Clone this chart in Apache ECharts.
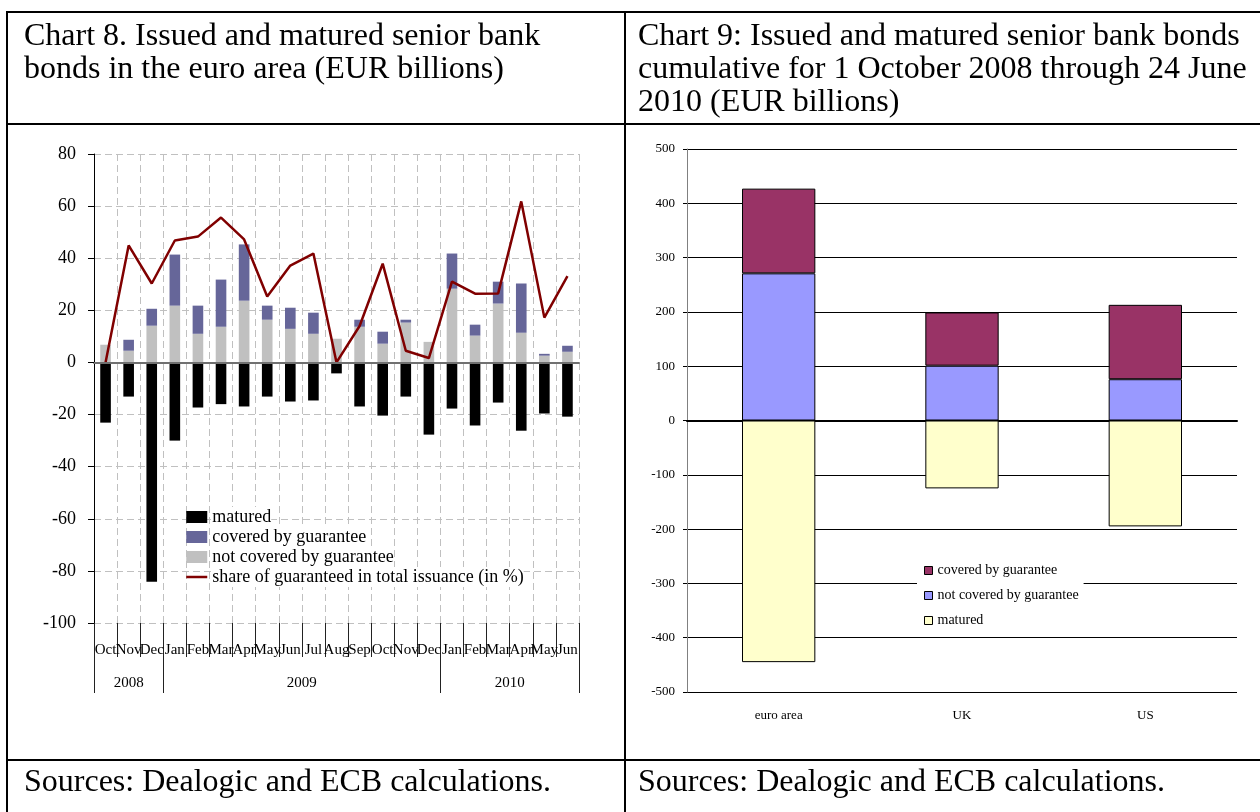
<!DOCTYPE html>
<html>
<head>
<meta charset="utf-8">
<script src="https://cdn.jsdelivr.net/npm/echarts@6/dist/echarts.min.js"></script>
<style>
    body { margin: 0; background: #fff; }
    #main { position: absolute; left: 0; top: 0; width: 1260px; height: 812px; }
    .ln { position: absolute; background: #000; }
    .txt { position: absolute; font-family: 'Liberation Serif', 'Times New Roman', serif;
           font-size: 32px; line-height: 33px; color: #000; white-space: nowrap; }
</style>
</head>
<body>
<div id="main"></div>
<!-- table frame -->
<div class="ln" style="left:6px;top:11px;width:1254px;height:2px"></div>
<div class="ln" style="left:6px;top:123px;width:1254px;height:2px"></div>
<div class="ln" style="left:6px;top:759px;width:1254px;height:2px"></div>
<div class="ln" style="left:6px;top:11px;width:2px;height:801px"></div>
<div class="ln" style="left:624px;top:11px;width:2px;height:801px"></div>
<div class="txt" style="left:24px;top:18px">Chart 8. Issued and matured senior bank<br>bonds in the euro area (EUR billions)</div>
<div class="txt" style="left:638px;top:18px">Chart 9: Issued and matured senior bank bonds<br>cumulative for 1 October 2008 through 24 June<br>2010 (EUR billions)</div>
<div class="txt" style="left:24px;top:764px">Sources: Dealogic and ECB calculations.</div>
<div class="txt" style="left:638px;top:764px">Sources: Dealogic and ECB calculations.</div>
<script>
// chart 8: monthly data, Oct 2008 - Jun 2010
var months = ['Oct', 'Nov', 'Dec', 'Jan', 'Feb', 'Mar', 'Apr', 'May', 'Jun', 'Jul', 'Aug', 'Sep',
    'Oct', 'Nov', 'Dec', 'Jan', 'Feb', 'Mar', 'Apr', 'May', 'Jun'];
var notCovered = [6.8, 4.5, 14.1, 21.8, 11.0, 13.7, 23.7, 16.4, 12.9, 11.0, 9.1, 13.7, 7.2, 15.3, 7.9, 28.3, 10.3, 22.6, 11.4, 2.6, 4.1];
var covered = [0, 4.2, 6.5, 19.6, 10.8, 18.1, 21.6, 5.4, 8.1, 8.1, 0, 2.7, 4.6, 1.1, 0, 13.5, 4.2, 8.4, 18.9, 0.7, 2.3];
var matured = [-23.1, -13.1, -84.2, -30.0, -17.3, -16.0, -16.9, -13.1, -15.0, -14.6, -4.2, -16.9, -20.4, -13.1, -27.7, -17.7, -24.2, -15.4, -26.2, -19.6, -20.8];
var share = [0, 44.9, 30.3, 46.8, 48.3, 55.6, 47.2, 25.3, 37.2, 41.8, 0, 14, 37.9, 4.5, 1.7, 31.0, 26.4, 26.5, 61.8, 17.2, 33.1];
var years = ['2008', '2009', '2010'];
var yearMid = [1.5, 9, 18];
var yearEdges = [0, 3, 15, 21];

// chart 9: cumulative totals
var regions = ['euro area', 'UK', 'US'];
var rNotCovered = [271, 101, 76];
var rCovered = [156, 98, 137];
var rMatured = [-445, -125, -195];

var FONT = "'Liberation Serif', 'Times New Roman', serif";
var dash = { color: '#c0c0c0', type: [7, 4], width: 1 };
var SHARE = 'share of guaranteed in total issuance (in %)';
var hiddenLine = { show: true, onZero: false, lineStyle: { color: 'rgba(0,0,0,0)' } };

var myChart = echarts.init(document.getElementById('main'));

var g8 = { left: 94, top: 154, width: 485, height: 469 };
var g9 = { left: 687, top: 149, width: 550, height: 543 };

var option = {
    animation: false,
    textStyle: { fontFamily: FONT, color: '#000' },
    grid: [
        Object.assign({}, g8),
        Object.assign({}, g8),
        Object.assign({}, g8),
        Object.assign({}, g9),
        Object.assign({}, g9)
    ],
    legend: [
        {
            left: 185, top: 507, orient: 'vertical', padding: 0, itemGap: 0,
            itemWidth: 21, itemHeight: 12, selectedMode: false,
            textStyle: { fontFamily: FONT, fontSize: 18, lineHeight: 20, color: '#000', backgroundColor: '#fff' },
            data: [
                { name: 'matured', icon: 'rect', itemStyle: { color: '#000' } },
                { name: 'covered by guarantee', icon: 'rect', itemStyle: { color: '#666699' } },
                { name: 'not covered by guarantee', icon: 'rect', itemStyle: { color: '#c0c0c0' } },
                {
                    name: SHARE,
                    itemStyle: { color: 'rgba(0,0,0,0)', borderWidth: 0, opacity: 0 },
                    lineStyle: { color: '#800000', width: 2.5 }
                }
            ]
        },
        {
            left: 917, top: 563, orient: 'vertical', padding: [0, 5, 0, 7], itemGap: 10,
            itemWidth: 8, itemHeight: 8, selectedMode: false, backgroundColor: '#fff',
            itemStyle: { borderColor: '#000', borderWidth: 1 },
            textStyle: { fontFamily: FONT, fontSize: 14, lineHeight: 15, color: '#000' },
            data: [
                { name: 'covered by guarantee', icon: 'rect', itemStyle: { color: '#993366' } },
                { name: 'not covered by guarantee', icon: 'rect', itemStyle: { color: '#9999ff' } },
                { name: 'matured', icon: 'rect', itemStyle: { color: '#ffffcc' } }
            ]
        }
    ],
    xAxis: [
        {
            gridIndex: 0, type: 'category', data: months,
            axisLine: { onZero: true, lineStyle: { color: '#707070', width: 2 } },
            axisTick: { interval: 0, length: 4, lineStyle: { color: '#333' } },
            axisLabel: { show: false },
            splitLine: { show: true, interval: 0, lineStyle: dash }
        },
        {
            gridIndex: 1, type: 'category', data: months, position: 'bottom',
            axisLine: hiddenLine,
            axisTick: { show: true, interval: 0, length: 34, lineStyle: { color: '#222' } },
            axisLabel: { interval: 0, fontSize: 15, margin: 20, color: '#000', fontFamily: FONT },
            splitLine: { show: false }
        },
        {
            gridIndex: 2, type: 'value', min: 0, max: 21, position: 'bottom', offset: 34,
            axisLine: hiddenLine,
            axisTick: { show: true, customValues: yearEdges, length: 36, lineStyle: { color: '#222' } },
            axisLabel: {
                customValues: yearMid, fontSize: 15, margin: 19, color: '#000', fontFamily: FONT,
                formatter: function (v) { return years[yearMid.indexOf(v)] || ''; }
            },
            splitLine: { show: false }
        },
        {
            gridIndex: 3, type: 'category', data: regions,
            axisLine: { onZero: true, lineStyle: { color: '#000', width: 2 } },
            axisTick: { interval: 0, length: 5, lineStyle: { color: '#000' } },
            axisLabel: { show: false }
        },
        {
            gridIndex: 4, type: 'category', data: regions, position: 'bottom',
            axisLine: hiddenLine, axisTick: { show: false },
            axisLabel: { fontSize: 13, margin: 17, color: '#000', fontFamily: FONT }
        }
    ],
    yAxis: [
        {
            gridIndex: 0, type: 'value', min: -100, max: 80, interval: 20,
            axisLine: { show: true, lineStyle: { color: '#000' } },
            axisTick: { show: true, length: 6, lineStyle: { color: '#000' } },
            axisLabel: { fontSize: 18, margin: 18, color: '#000', fontFamily: FONT },
            splitLine: { show: true, lineStyle: dash }
        },
        { gridIndex: 1, show: false, min: -100, max: 80 },
        { gridIndex: 2, show: false, min: -100, max: 80 },
        {
            gridIndex: 3, type: 'value', min: -500, max: 500, interval: 100,
            axisLine: { show: true, lineStyle: { color: '#808080' } },
            axisTick: { show: true, length: 4, lineStyle: { color: '#000' } },
            axisLabel: { fontSize: 13, margin: 12, color: '#000', fontFamily: FONT },
            splitLine: { show: true, lineStyle: { color: '#000', width: 1 } }
        },
        { gridIndex: 4, show: false, min: -500, max: 500 }
    ],
    series: [
        {
            name: 'not covered by guarantee', type: 'bar', stack: 'iss', barWidth: '46%',
            xAxisIndex: 0, yAxisIndex: 0, data: notCovered, itemStyle: { color: '#c0c0c0' }
        },
        {
            name: 'covered by guarantee', type: 'bar', stack: 'iss',
            xAxisIndex: 0, yAxisIndex: 0, data: covered, itemStyle: { color: '#666699' }
        },
        {
            name: 'matured', type: 'bar', stack: 'iss',
            xAxisIndex: 0, yAxisIndex: 0, data: matured, itemStyle: { color: '#000' }
        },
        {
            name: SHARE, type: 'line', xAxisIndex: 0, yAxisIndex: 0, data: share,
            symbol: 'none', itemStyle: { color: '#800000' }, lineStyle: { color: '#800000', width: 2.5 },
            markLine: {
                silent: true, symbol: 'none', label: { show: false },
                lineStyle: { color: '#707070', width: 2, type: 'solid' },
                data: [{ yAxis: 0 }]
            },
            z: 4
        },
        {
            name: 'not covered by guarantee', type: 'bar', stack: 'cum', barWidth: '40%',
            xAxisIndex: 3, yAxisIndex: 3, data: rNotCovered,
            itemStyle: { color: '#9999ff', borderColor: '#000', borderWidth: 1 }
        },
        {
            name: 'covered by guarantee', type: 'bar', stack: 'cum',
            xAxisIndex: 3, yAxisIndex: 3, data: rCovered,
            itemStyle: { color: '#993366', borderColor: '#000', borderWidth: 1 }
        },
        {
            name: 'matured', type: 'bar', stack: 'cum',
            xAxisIndex: 3, yAxisIndex: 3, data: rMatured,
            itemStyle: { color: '#ffffcc', borderColor: '#000', borderWidth: 1 }
        }
    ]
};

myChart.setOption(option);
</script>
</body>
</html>
